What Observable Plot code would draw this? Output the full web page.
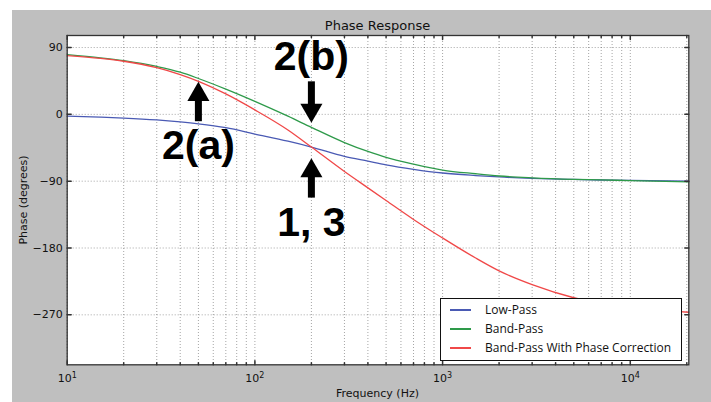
<!DOCTYPE html>
<html>
<head>
<meta charset="utf-8">
<script src="https://cdn.jsdelivr.net/npm/d3@7"></script>
<script src="https://cdn.jsdelivr.net/npm/@observablehq/plot@0.6"></script>
<style>
html, body { margin: 0; padding: 0; background: #ffffff; }
#fig { position: relative; width: 711px; height: 402px; overflow: hidden; }
#bg { position: absolute; left: 12px; top: 10px; right: 0; bottom: 0; background: #bfbfbf; }
#chart { position: absolute; left: 0; top: 0; }
.lbl { position: absolute; font-family: "DejaVu Sans", sans-serif; color: #111; white-space: nowrap; line-height: 1; }
#legend { position: absolute; left: 440px; top: 298px; width: 242px; height: 63px; box-sizing: border-box;
  border: 1.2px solid #111; background: #fff; font-family: "Open Sans", sans-serif; font-size: 12px; color: #111; }
.row { position: absolute; left: 0; height: 19px; display: flex; align-items: center; }
.sw { position: absolute; left: 9px; width: 21px; height: 2px; }
.tx { position: absolute; left: 44px; white-space: nowrap; line-height: 1; }
</style>
</head>
<body>
<div id="fig">
  <div id="bg"></div>
  <div id="chart"></div>
  <div class="lbl" id="title" style="left:377.5px; top:18.5px; font-size:13px; transform:translateX(-50%);">Phase Response</div>
  <div class="lbl" id="xlabel" style="left:377.5px; top:388px; font-size:11px; transform:translateX(-50%);">Frequency (Hz)</div>
  <div class="lbl" id="ylabel" style="left:22.5px; top:200px; font-size:11px; transform:translate(-50%,-50%) rotate(-90deg);">Phase (degrees)</div>
  <div id="legend"></div>
</div>
<script>
// ---- data ----
const freqs = [10, 15, 20, 30, 40, 50, 70, 100, 150, 200, 300, 400, 500, 700, 1000, 1500, 2000, 3000, 5000, 7000, 10000, 20500];
const lowPass = [-2.5, -3.8, -5, -7.5, -10.2, -12.8, -18, -26.5, -36.2, -44, -56.5, -63, -68, -74, -79, -82.4, -84.3, -86.2, -87.7, -88.4, -89, -90];
const bandPass = [80.5, 76.2, 72.3, 64.5, 56.8, 48.3, 34, 17.5, -2.5, -17.5, -38, -50, -58, -67, -75, -80, -83, -85.5, -87.5, -88.3, -89.2, -91];
const bandPassCorrected = [79, 75.3, 71.5, 62.8, 53.5, 44.5, 27.5, 6, -21, -44, -77, -99, -116, -141.5, -166.5, -193.5, -210.8, -229.3, -247, -255, -260, -266.5];
const seriesNames = ["Low-Pass", "Band-Pass", "Band-Pass With Phase Correction"];
const seriesColors = ["#4a5ab4", "#2e9a4a", "#f04848"];

const xMajorTicks = [10, 100, 1000, 10000];
const xMinorTicks = [20, 30, 40, 50, 60, 70, 80, 90, 200, 300, 400, 500, 600, 700, 800, 900,
  2000, 3000, 4000, 5000, 6000, 7000, 8000, 9000, 20000];
const yTicks = [90, 0, -90, -180, -270];

const noteLabels = ["2(b)", "2(a)", "1, 3"];
const noteFreq = [200, 50, 200];
const notePhase = [78, -43, -145.5];

const arrowFreq = [50, 200, 200];
const arrowTail = [-9.9, 43.8, -112.8];
const arrowTip = [43.8, -11.3, -59.1];

// ---- tables built from the arrays ----
const seriesValues = [lowPass, bandPass, bandPassCorrected];
const rows = seriesNames.flatMap((name, s) => freqs.map((f, i) => ({f, phase: seriesValues[s][i], series: name})));
const notes = noteLabels.map((label, i) => ({label, f: noteFreq[i], phase: notePhase[i]}));
const arrows = arrowFreq.map((f, i) => ({f, tail: arrowTail[i], tip: arrowTip[i], up: arrowTip[i] > arrowTail[i]}));
const ups = arrows.filter(d => d.up);
const downs = arrows.filter(d => !d.up);

const tickShape = {draw(context, l) { context.moveTo(0, 0); context.lineTo(0, -l); }};
const gridStyle = {stroke: "#000", strokeOpacity: 0.45, strokeWidth: 0.8, strokeDasharray: "1,2"};
const edge = "#333";

const chart = Plot.plot({
  width: 711,
  height: 402,
  marginLeft: 66.7,
  marginRight: 22.7,
  marginTop: 35,
  marginBottom: 37.7,
  style: {background: "transparent", fontFamily: "DejaVu Sans, sans-serif", fontSize: "11px", color: "#111"},
  x: {type: "log", domain: [10, 20500]},
  y: {domain: [-337.3, 106.2]},
  color: {domain: seriesNames, range: seriesColors},
  marks: [
    Plot.frame({fill: "white", stroke: null}),
    Plot.gridX(xMinorTicks, gridStyle),
    Plot.gridX(xMajorTicks, gridStyle),
    Plot.gridY(yTicks, gridStyle),
    Plot.line(rows, {x: "f", y: "phase", z: "series", stroke: "series", strokeWidth: 1.3, curve: "monotone-x"}),
    Plot.ruleX(ups, {x: "f", y1: "tip", y2: "tail", stroke: "black", strokeWidth: 7, insetTop: 7}),
    Plot.ruleX(downs, {x: "f", y1: "tail", y2: "tip", stroke: "black", strokeWidth: 7, insetBottom: 7}),
    Plot.dot(ups, {x: "f", y: "tip", symbol: "triangle", r: 8.2, fill: "black", stroke: null, dy: 12.7}),
    Plot.dot(downs, {x: "f", y: "tip", symbol: "triangle", r: 8.2, fill: "black", stroke: null, rotate: 180, dy: -12.7}),
    Plot.text(notes, {x: "f", y: "phase", text: "label", fontSize: 41, fontWeight: "bold",
      fontFamily: "Liberation Sans, Arial, sans-serif", fill: "black"}),
    Plot.axisY(yTicks, {anchor: "left", tickSize: 0, tickPadding: 4.4, label: null, fontSize: 11}),
    Plot.axisX(xMajorTicks, {anchor: "bottom", tickSize: 0, tickPadding: 9.2, label: null, fontSize: 11,
      tickFormat: d => `10|${Math.round(Math.log10(d))}`}),
    Plot.vector(yTicks, {y: d => d, frameAnchor: "left", rotate: 90, length: 4, anchor: "start", shape: tickShape, stroke: edge}),
    Plot.vector(yTicks, {y: d => d, frameAnchor: "right", rotate: -90, length: 4, anchor: "start", shape: tickShape, stroke: edge}),
    Plot.vector(xMajorTicks, {x: d => d, frameAnchor: "bottom", rotate: 0, length: 4, anchor: "start", shape: tickShape, stroke: edge}),
    Plot.vector(xMajorTicks, {x: d => d, frameAnchor: "top", rotate: 180, length: 4, anchor: "start", shape: tickShape, stroke: edge}),
    Plot.vector(xMinorTicks, {x: d => d, frameAnchor: "bottom", rotate: 0, length: 2, anchor: "start", shape: tickShape, stroke: edge}),
    Plot.vector(xMinorTicks, {x: d => d, frameAnchor: "top", rotate: 180, length: 2, anchor: "start", shape: tickShape, stroke: edge}),
    Plot.frame({stroke: edge, strokeWidth: 1.3})
  ]
});
document.getElementById("chart").appendChild(chart);

// superscript exponents on the log axis labels
d3.select(chart).selectAll('g[aria-label="x-axis tick label"] text').each(function () {
  const parts = this.textContent.split("|");
  if (parts.length !== 2) return;
  const sel = d3.select(this);
  sel.text(null);
  sel.append("tspan").text(parts[0]);
  sel.append("tspan").attr("dy", "-0.5em").attr("font-size", "8px").text(parts[1]);
});

// legend built from the series arrays
const legend = d3.select("#legend");
seriesNames.forEach((name, i) => {
  const row = legend.append("div").attr("class", "row").style("top", (1.5 + i * 18.8) + "px").style("width", "100%");
  row.append("span").attr("class", "sw").style("background", seriesColors[i]);
  row.append("span").attr("class", "tx").text(name);
});
</script>
</body>
</html>
